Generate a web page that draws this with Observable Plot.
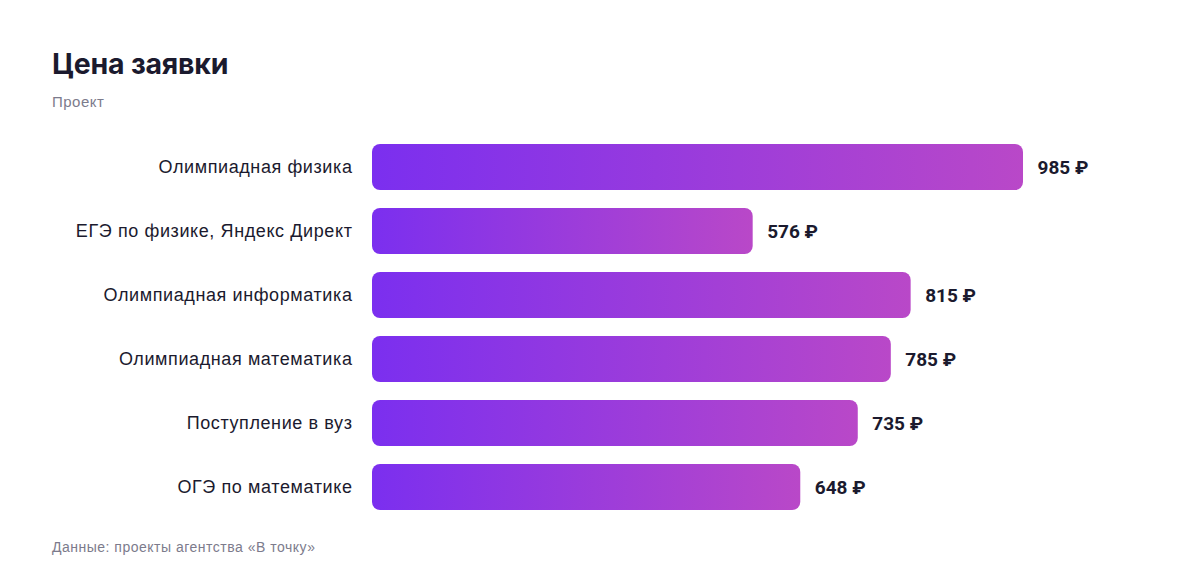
<!DOCTYPE html>
<html><head><meta charset="utf-8">
<script src="https://cdn.jsdelivr.net/npm/d3@7"></script>
<script src="https://cdn.jsdelivr.net/npm/@observablehq/plot@0.6"></script>
<style>
body{margin:0;background:#fff;font-family:"Liberation Sans",Arial,sans-serif;}
#wrap{position:relative;width:1200px;height:584px;}
#title{position:absolute;left:52px;top:46px;font-family:Inter,sans-serif;font-size:28.5px;font-weight:700;color:#1b1a2e;letter-spacing:-0.2px;margin:0;}
#sub{position:absolute;left:52px;top:93px;font-size:15px;letter-spacing:0.5px;color:#7c7b8c;}
#chart{position:absolute;left:0;top:120px;}
#cap{position:absolute;left:52px;top:539px;font-size:14px;letter-spacing:0.5px;color:#7c7b8c;}
</style></head>
<body><div id="wrap">
<div id="title">Цена заявки</div>
<div id="sub">Проект</div>
<div id="chart"></div>
<div id="cap">Данные: проекты агентства «В точку»</div>
</div>
<script>
const categories = ["Олимпиадная физика","ЕГЭ по физике, Яндекс Директ","Олимпиадная информатика","Олимпиадная математика","Поступление в вуз","ОГЭ по математике"];
const values = [985, 576, 815, 785, 735, 648];
const currency = "₽";

const data = categories.map((c,i)=>({cat:c, value:values[i]}));

const plot = Plot.plot({
  width:1200,
  height:405,
  marginLeft:372,
  marginRight:177,
  marginTop:15.4,
  marginBottom:5.6,
  style:{fontFamily:'"Liberation Sans", Arial, sans-serif', background:"transparent"},
  x:{domain:[0,985], axis:null},
  y:{domain:categories, paddingInner:0.28, paddingOuter:0.14, label:null},
  marks:[
    Plot.barX(data,{x:"value", y:"cat", fill:"url(#barGrad)", rx:8}),
    Plot.axisY({tickSize:0, tickPadding:20, fontSize:18, fill:"#1b1a2e", label:null}),
    Plot.text(data,{x:"value", y:"cat", text:d=>d.value+" "+currency, dx:14, textAnchor:"start", fontSize:19, fontWeight:700, fill:"#1b1a2e", fontFamily:"Roboto, Inter, sans-serif"})
  ]
});
const svg = d3.select(plot);
svg.selectAll("[aria-label='y-axis tick label'] text").style("letter-spacing","0.6px");
const defs = svg.insert("defs",":first-child");
const g = defs.append("linearGradient").attr("id","barGrad").attr("x1","0").attr("x2","1").attr("y1","0").attr("y2","0");
g.append("stop").attr("offset","0%").attr("stop-color","#7b2fef");
g.append("stop").attr("offset","100%").attr("stop-color","#b948c8");
document.getElementById("chart").appendChild(plot);
</script>
</body></html>
